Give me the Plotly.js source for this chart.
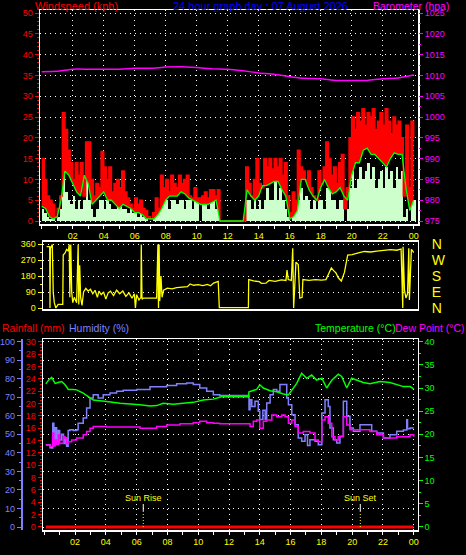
<!DOCTYPE html>
<html><head><meta charset="utf-8">
<script src="https://cdn.plot.ly/plotly-3.0.1.min.js"></script>
<style>html,body{margin:0;padding:0;background:#000;}#chart{width:466px;height:555px;}</style>
</head><body><div id="chart"></div>
<script>
// ---------- DATA ----------
const chartTitle = "24 hour graph day : 07 August 2026";
const hourTickVals = [2,4,6,8,10,12,14,16,18,20,22,24];
const hourTickText = ["02","04","06","08","10","12","14","16","18","20","22","00"];

// gust and speed sampled every 10 minutes (0h .. 24h)
const gustHours = [];
for (let k = 0; k <= 144; k++) gustHours.push(k / 6);
const windGust = [15,10,6,5,4,1,3,6,26,22, 17,14,10,14,11,14,6,19,19,10,
  6,9,8,16.7,13,10,13,7,9,10, 8,12,7,5.5,4,3,5.5,4,5,3,
  2.5,1,0.5,2,5.5,3,11,8,10,7, 11,9,8,11,9,10,11,6,5.5,8,
  5.5,5.5,6,7,5.5,7.5,7.5,6,7.5,0, 0,0,0,0,0,0,0,0,0,13,
  9,6,10,15,9,8,15,13,15,12.5, 15,13,15,11,14,6,2,7,5,17,
  13,12,10,12,8,6,5,12,9,13, 19,15,11,13,9,14,16,3,8,20,
  25,22,26,24,27,23,26,25,27,22, 24,26,23,27,24,21,25,23,24,20,
  6,23,8,24,20];
const windSpeed = [3,2,1,0.5,1,0,1,3,16,7, 5,4,6,3,5,3,5,12,5,3,
  1,3,5,5,3,5,4,3,3,4, 5,3,3,2,3,2,2,1,2,1,
  0.5,0,0,1,2,3,5,5,5,3, 5,5,4,5,5,3,5,5,3,5,
  5,0,5,5,3,5,5,3,5,0, 0,0,0,0,0,0,0,0,0,5,
  5,3,5,3,5,3,5,8,5,5, 10,5,8,5,3,1,0,3,3,5,
  8,5,6,5,3,5,3,5,5,3, 8,8,5,5,3,5,5,0,3,8,
  12,8,10,13,10,12,14,10,13,8, 10,12,8,13,10,12,8,13,10,12,
  1,3,0,5,5];

// average speed every 15 minutes
const avgHours = [];
for (let i = 0; i <= 96; i++) avgHours.push(i / 4);
const windAvg = [3.5,3,1,0.5,1,5,12,11,9,7, 6,11,9,4,5,6,7,5,5,4, 3,4,3.5,3,2,2,1.5,0.5,0.5,0.5,
  1.5,3,5,6,6,6,7,6.5,5.5,5, 4.5,4,4,4,4.5,5,0,0,0,0, 0,0,0,7.5,6,5,6,8.5,8.5,9,
  9.5,9.5,7.5,6,0.5,1,2.5,10,10,7.5, 6,5,8,10,8,6.5,7,8,6,5, 11,14,14,17,17.5,16,16,15,14,13,
  15,16.4,16,16,8,2.5,5];

// barometer hourly
const baroHours = [0,1,2,3,4,5,6,7,8,9,10,11,12,13,14,15,16,17,18,19,20,21,22,23,24];
const baroValues = [1010.9,1011.0,1011.5,1011.5,1011.5,1011.5,1011.7,1011.7,1012.0,1012.1,1011.9,1011.6,
  1011.5,1011.1,1010.6,1010.3,1009.7,1009.3,1009.2,1008.8,1008.8,1008.8,1009.2,1009.4,1010.1];

// wind direction
const dirHours = [0.15,0.35,0.37,0.4,0.52,0.58,0.65,0.75,0.9,1.2,1.23,1.35,1.45,1.56,1.62,1.66,1.72,1.78,1.85,1.95,
  2.1,2.2,2.24,2.3,2.36,2.45,2.55,2.7,2.85,3.0,3.15,3.3,3.45,3.55,3.7,3.85,4.0,4.15,4.3,4.5,
  4.7,4.9,5.1,5.3,5.5,5.7,5.85,5.92,6.0,6.15,6.28,6.3,6.35,6.45,7.3,7.38,7.42,7.46,7.5,7.58,
  7.65,7.75,8.0,8.3,8.6,9.0,9.3,9.47,9.7,10.0,10.3,10.6,10.8,11.0,11.2,11.3,11.37,13.26,13.28,13.6,
  13.97,14.1,14.4,14.6,15.0,15.4,15.7,15.77,15.85,16.05,16.14,16.2,16.35,16.5,16.6,16.75,16.8,17.2,17.6,18.0,
  18.3,18.5,18.65,18.8,18.95,19.1,19.3,19.5,19.6,19.71,20.0,20.3,20.47,20.8,21.2,21.6,22.0,22.5,22.9,23.18,
  23.29,23.31,23.4,23.5,23.6,23.68,23.72,23.85,23.94,24.0];
const dirValues = [345,345,0,335,357,90,30,0,20,20,298,310,330,320,357,60,357,90,30,60,
  30,357,20,240,60,15,90,110,95,105,80,100,60,95,75,90,50,85,95,70,
  100,80,95,65,85,55,80,0,75,45,60,357,50,56,56,357,0,357,40,180,
  60,100,112,108,115,118,120,135,128,132,126,133,125,140,145,150,2,2,160,152,
  148,139,140,155,150,158,155,214,160,155,336,0,258,245,56,60,160,155,160,157,
  160,200,225,210,197,170,152,200,242,298,300,310,312,318,315,320,325,328,325,332,
  0,345,100,56,80,336,45,330,320,312];
const dirTickVals = [0,90,180,270,360];
const dirTickText = ["N","E","S","W","N"];

// temperature / dew point (°C), humidity (%), rainfall (mm)
const tempHours = [0.1,0.3,0.48,0.7,0.9,1.13,1.35,1.56,1.88,2.1,2.53,2.97,3.18,4.05,4.92,6.22,6.87,7.3,7.73,8.38,
  9.25,9.68,10.33,10.98,11.4,11.5,13.26,13.3,13.8,14.0,14.23,14.67,15.1,15.53,15.86,16.08,16.4,16.72,17.05,17.37,
  17.7,18.03,18.35,18.68,19.1,19.32,19.65,19.97,20.3,20.73,21.16,21.81,22.46,22.9,23.33,23.76,24.0];
const tempValues = [30.9,31.8,32.3,31.0,31.2,31.4,30.7,29.7,29.7,29.6,28.9,27.8,27.4,27.1,26.7,26.4,26.1,26.2,26.7,26.5,
  26.7,26.9,27.4,27.6,28.0,28.1,28.1,29.2,29.7,30.7,30.0,29.4,29.2,28.7,28.5,29.6,31.0,33.2,32.1,32.8,
  31.7,32.1,30.0,31.7,33.0,32.5,30.0,32.1,31.7,31.2,30.9,31.4,31.2,30.7,30.3,30.3,29.8];
const humHours = [0.1,0.37,0.48,0.55,0.62,0.7,0.8,0.9,1.0,1.13,1.25,1.35,1.45,1.55,1.67,1.88,2.1,2.2,2.53,2.75,
  2.97,3.18,3.5,3.83,4.27,4.7,5.13,6.0,6.87,7.95,8.6,9.25,9.68,10.1,10.55,10.98,11.4,13.26,13.3,13.37,
  13.48,13.69,13.9,14.0,14.2,14.35,14.45,14.67,14.88,15.1,15.31,15.53,15.75,15.86,16.08,16.29,16.5,16.72,16.94,17.1,
  17.26,17.59,17.8,18.03,18.24,18.45,18.56,18.78,19.0,19.21,19.43,19.65,19.86,20.08,20.51,20.94,21.27,21.6,22.03,22.46,
  22.9,23.33,23.55,23.6,23.76,24.0];
const humValues = [44.4,42.8,42.6,56,46,53.6,46,52,47,50,45,48,43.5,52,52.5,52,52.5,56,58.8,64.2,
  69.6,71.4,69.6,71.4,72.3,73.2,73.7,74.1,75.6,76.3,77.3,77.7,76.8,75.0,73.2,71.4,70.9,70.9,63.3,68.7,
  65,67.8,62.4,58,63,58,66.9,71.4,74.1,73.2,76.8,76.8,69.6,66,60.6,55.2,48,46.2,49.8,44,
  47.1,46.2,44.4,61.5,68.7,65,53.4,47.1,45.3,48.9,67.8,59.7,53.4,51.6,55.2,55.2,51.6,50.7,48,49.8,
  51.6,52.3,57.9,53,53.4,53.4];
const dewHours = [0.1,0.37,0.54,0.62,0.7,0.8,0.91,1.0,1.13,1.25,1.35,1.45,1.56,1.78,2.1,2.53,2.75,2.97,3.18,4.05,
  5.13,6.22,7.3,7.95,8.82,9.68,10.1,10.55,10.98,11.4,13.26,13.37,13.58,13.8,14.0,14.23,14.45,14.78,15.1,15.43,
  15.64,15.86,16.08,16.29,16.5,16.83,17.26,17.59,17.8,18.03,18.24,18.45,18.68,18.89,19.1,19.43,19.65,19.86,20.73,21.16,
  21.6,22.03,22.46,22.9,23.33,23.76,24.0];
const dewValues = [17.7,17.4,20.3,17.5,18.8,17.8,19.9,18.0,18.1,19.5,19.2,18.0,18.4,18.8,19.2,19.9,20.6,21.3,21.7,21.6,
  21.6,21.3,21.7,22.0,22.3,22.5,22.8,22.5,22.4,22.3,22.3,21.7,22.8,23.1,21.3,22.8,23.1,24.2,23.8,24.2,
  23.8,22.4,23.1,21.7,20.3,20.6,20.3,18.8,18.4,23.1,23.8,22.4,19.5,18.8,19.5,23.8,22.0,21.0,21.0,20.6,
  19.9,19.2,19.2,19.5,19.5,19.9,19.5];
const rainHours = [0.1,6,12,18,24];
const rainValues = [0,0,0,0,0];
const sunRise = 6.43;
const sunSet = 20.53;

// ---------- STYLE ----------
const FONT = "Liberation Sans, Arial, sans-serif";
const RED = "#ff0000", GREEN = "#00ff00", MAG = "#ff00ff", YEL = "#ffff00", HUM = "#8080ff", PALE = "#ccffcc";
const GD = "1px,4px";
const W = 466, H = 555;
const px = v => v / W;
const py = v => 1 - v / H;

const traces = [
  // base for the gust band (average speed), invisible
  {x: avgHours, y: windAvg, xaxis: "x", yaxis: "y", type: "scatter", mode: "lines",
   line: {color: "rgba(0,0,0,0)", width: 0}, hoverinfo: "skip"},
  {x: gustHours, y: windGust, xaxis: "x", yaxis: "y", type: "scatter", mode: "lines",
   line: {color: RED, width: 1.5, shape: "hv"}, fill: "tonexty", fillcolor: RED},
  {x: gustHours, y: windSpeed, xaxis: "x", yaxis: "y", type: "bar", width: 1 / 6, offset: 0,
   marker: {color: PALE, line: {width: 0}}},
  {x: avgHours, y: windAvg, xaxis: "x", yaxis: "y", type: "scatter", mode: "lines",
   line: {color: GREEN, width: 1.3}},
  {x: baroHours, y: baroValues, xaxis: "x", yaxis: "y2", type: "scatter", mode: "lines",
   line: {color: MAG, width: 1.5, shape: "spline", smoothing: 0.3}},
  {x: dirHours, y: dirValues, xaxis: "x2", yaxis: "y3", type: "scatter", mode: "lines",
   line: {color: YEL, width: 1.3}},
  {x: dirHours, y: dirValues, xaxis: "x2", yaxis: "y4", type: "scatter", mode: "lines",
   line: {color: "rgba(0,0,0,0)", width: 0}, hoverinfo: "skip"},
  {x: rainHours, y: rainValues, xaxis: "x3", yaxis: "y5", type: "scatter", mode: "lines",
   line: {color: RED, width: 3}},
  {x: humHours, y: humValues, xaxis: "x3", yaxis: "y6", type: "scatter", mode: "lines",
   line: {color: HUM, width: 1.5, shape: "hv"}},
  {x: tempHours, y: tempValues, xaxis: "x3", yaxis: "y7", type: "scatter", mode: "lines",
   line: {color: GREEN, width: 1.5}},
  {x: dewHours, y: dewValues, xaxis: "x3", yaxis: "y7", type: "scatter", mode: "lines",
   line: {color: MAG, width: 1.5, shape: "hv"}}
];

const tickFont = c => ({family: FONT, size: 9, color: c});
const baseX = {
  tickmode: "array", tickvals: hourTickVals, ticktext: hourTickText,
  tickfont: tickFont(YEL), ticks: "outside", ticklen: 3, tickcolor: "#fff",
  showline: true, linecolor: "#fff", linewidth: 1.5, mirror: true,
  showgrid: true, gridcolor: "#fff", griddash: GD, gridwidth: 1, zeroline: false,
  minor: {tickmode: "linear", tick0: 0, dtick: 1, ticks: "outside", ticklen: 3, tickcolor: "#fff", showgrid: false},
  fixedrange: true
};

const layout = {
  width: W, height: H, autosize: false,
  margin: {l: 0, r: 0, t: 0, b: 0, pad: 0},
  paper_bgcolor: "#000", plot_bgcolor: "#000", showlegend: false, bargap: 0,
  font: {family: FONT, size: 9, color: "#fff"},
  xaxis: Object.assign({}, baseX, {domain: [px(40), px(418)], anchor: "y", range: [-0.11, 24.28]}),
  yaxis: {domain: [py(224), py(10.3)], anchor: "x", range: [-0.72, 50.65], tickmode: "linear", tick0: 0, dtick: 5,
    tickfont: tickFont(RED), ticks: "outside", ticklen: 4, tickcolor: RED,
    showline: true, linecolor: "#fff", linewidth: 1.5, mirror: true,
    showgrid: true, gridcolor: "#fff", griddash: GD, zeroline: false,
    minor: {dtick: 1, ticks: "outside", ticklen: 2, tickcolor: RED, showgrid: false}},
  yaxis2: {overlaying: "y", side: "right", anchor: "x", range: [974.28, 1025.65], tickmode: "linear", tick0: 975, dtick: 5,
    tickfont: tickFont(MAG), ticks: "outside", ticklen: 4, tickcolor: MAG, showgrid: false, zeroline: false, showline: false,
    minor: {dtick: 2.5, ticks: "outside", ticklen: 2, tickcolor: MAG, showgrid: false}},
  xaxis2: {domain: [px(43), px(417.7)], anchor: "y3", range: [-0.084, 24.26], showticklabels: false, ticks: "",
    showline: true, linecolor: "#fff", linewidth: 1.5, mirror: true, showgrid: false, zeroline: false},
  yaxis3: {domain: [py(309), py(241.7)], anchor: "x2", range: [-5.6, 373], tickmode: "array", tickvals: dirTickVals,
    tickfont: tickFont(YEL), ticks: "outside", ticklen: 4, tickcolor: YEL,
    showline: true, linecolor: "#fff", linewidth: 1.5, mirror: true,
    showgrid: true, gridcolor: "#fff", griddash: GD, zeroline: false,
    minor: {tickmode: "linear", tick0: 0, dtick: 45, ticks: "outside", ticklen: 2, tickcolor: YEL, showgrid: false}},
  yaxis4: {overlaying: "y3", side: "right", anchor: "x2", range: [-5.6, 373], tickmode: "array",
    tickvals: dirTickVals, ticktext: dirTickText, tickfont: {family: FONT, size: 14, color: YEL},
    ticks: "", ticklabelstandoff: 13, showgrid: false, zeroline: false, showline: false},
  xaxis3: Object.assign({}, baseX, {domain: [px(43), px(417.7)], anchor: "y5", range: [-0.084, 24.26]}),
  yaxis5: {domain: [py(530), py(339)], anchor: "x3", range: [-0.49, 30.44], tickmode: "linear", tick0: 0, dtick: 2,
    tickfont: tickFont(RED), ticks: "outside", ticklen: 4, tickcolor: RED,
    showline: true, linecolor: "#fff", linewidth: 1.5, mirror: true, showgrid: false, zeroline: false,
    minor: {dtick: 0.5, ticks: "outside", ticklen: 2, tickcolor: RED, showgrid: false}},
  yaxis6: {overlaying: "y5", side: "left", anchor: "free", position: px(21.7), range: [-1.6, 101.4],
    tickmode: "linear", tick0: 0, dtick: 10, tickfont: tickFont(HUM), ticks: "outside", ticklen: 4, tickcolor: HUM,
    showline: true, linecolor: HUM, linewidth: 2, showgrid: true, gridcolor: "#fff", griddash: GD, zeroline: false,
    minor: {dtick: 5, ticks: "outside", ticklen: 2, tickcolor: HUM, showgrid: false}},
  yaxis7: {overlaying: "y5", side: "right", anchor: "x3", range: [-0.65, 40.58], tickmode: "linear", tick0: 0, dtick: 5,
    tickfont: tickFont(GREEN), ticks: "outside", ticklen: 4, tickcolor: GREEN, showgrid: false, zeroline: false, showline: false,
    minor: {dtick: 2.5, ticks: "outside", ticklen: 2, tickcolor: GREEN, showgrid: false}},
  annotations: [
    {text: "Windspeed (kph)", x: px(34), y: py(6.5), xref: "paper", yref: "paper", xanchor: "left", yanchor: "middle", showarrow: false, borderpad: 0, font: {family: FONT, size: 11, color: RED}},
    {text: chartTitle, x: px(171.5), y: py(6.5), xref: "paper", yref: "paper", xanchor: "left", yanchor: "middle", showarrow: false, borderpad: 0, font: {family: FONT, size: 11, color: "#0000ff"}},
    {text: "Barometer (hpa)", x: px(371.5), y: py(6.5), xref: "paper", yref: "paper", xanchor: "left", yanchor: "middle", showarrow: false, borderpad: 0, font: {family: FONT, size: 10.5, color: MAG}},
    {text: "Rainfall (mm)", x: px(0), y: py(327.5), xref: "paper", yref: "paper", xanchor: "left", yanchor: "middle", showarrow: false, font: {family: FONT, size: 10.5, color: RED}},
    {text: "Humidity (%)", x: px(67), y: py(327.5), xref: "paper", yref: "paper", xanchor: "left", yanchor: "middle", showarrow: false, font: {family: FONT, size: 10.5, color: HUM}},
    {text: "Temperature (°C)", x: px(313), y: py(327.5), xref: "paper", yref: "paper", xanchor: "left", yanchor: "middle", showarrow: false, font: {family: FONT, size: 10.5, color: GREEN}},
    {text: "Dew Point (°C)", x: px(392.5), y: py(327.5), xref: "paper", yref: "paper", xanchor: "left", yanchor: "middle", showarrow: false, font: {family: FONT, size: 10.5, color: MAG}},
    {text: "Sun Rise", x: sunRise, y: py(497.7), xref: "x3", yref: "paper", xanchor: "center", yanchor: "middle", showarrow: false, font: {family: FONT, size: 9, color: YEL}},
    {text: "Sun Set", x: sunSet, y: py(497.7), xref: "x3", yref: "paper", xanchor: "center", yanchor: "middle", showarrow: false, font: {family: FONT, size: 9, color: YEL}}
  ],
  shapes: [
    {type: "line", xref: "x3", yref: "paper", x0: sunRise, x1: sunRise, y0: py(511.7), y1: py(504), line: {color: "#fff", width: 1}},
    {type: "line", xref: "x3", yref: "paper", x0: sunRise, x1: sunRise, y0: py(527), y1: py(511.7), line: {color: YEL, width: 1, dash: "1px,2px"}},
    {type: "line", xref: "x3", yref: "paper", x0: sunSet, x1: sunSet, y0: py(511.7), y1: py(504), line: {color: "#fff", width: 1}},
    {type: "line", xref: "x3", yref: "paper", x0: sunSet, x1: sunSet, y0: py(527), y1: py(511.7), line: {color: YEL, width: 1, dash: "1px,2px"}}
  ]
};

Plotly.newPlot("chart", traces, layout, {displayModeBar: false, staticPlot: true});
</script>
</body></html>
